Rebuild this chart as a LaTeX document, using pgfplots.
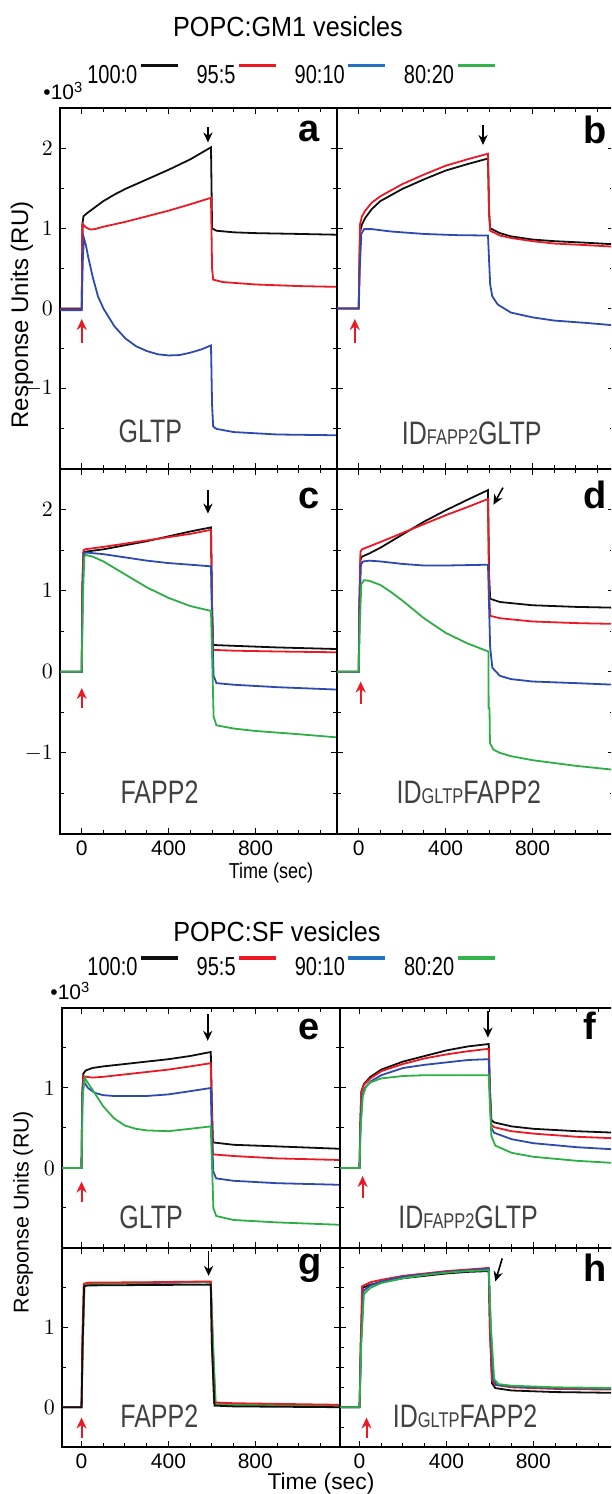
\documentclass[border=0pt]{standalone}
\usepackage{fontspec}
\setmainfont{Liberation Sans}
\usepackage{graphicx}
\usepackage{pgfplots}
\pgfplotsset{compat=1.18}
\usetikzlibrary{arrows.meta}

\definecolor{cK}{RGB}{15,15,15}
\definecolor{cR}{RGB}{235,25,35}
\definecolor{cB}{RGB}{45,75,175}
\definecolor{cG}{RGB}{45,175,70}
\definecolor{lB}{RGB}{35,115,195}
\definecolor{lG}{RGB}{50,180,75}
\definecolor{txtgray}{RGB}{65,65,65}

\pgfplotsset{
  base/.style={scale only axis, width=138.5pt, anchor=south west,
    axis line style={line width=0.6pt},
    every tick/.style={black, line width=0.5pt},
    major tick length=3pt, minor tick length=2pt,
    tick label style={font=\fontsize{10.5}{12}\selectfont},
    xtick={-400,0,400,800,1200}, minor x tick num=3,
    every axis plot/.append style={line width=0.9pt},
    clip=true},
  topg/.style={base, xmin=-100, xmax=1175, ymin=-2, ymax=2.5,
    ytick={-1,0,1,2}, minor ytick={-1.5,-0.5,0.5,1.5}},
  botg/.style={base, width=139pt, xmin=-90, xmax=1190},
  mylegend/.style={legend columns=4, legend plot pos=right,
    legend cell align=left,
    legend image code/.code={\draw[##1] (0pt,5pt) -- (18.5pt,5pt);},
    legend style={draw=none, fill=none, inner sep=0pt, anchor=west,
      font=\fontsize{10}{12}\selectfont,
      nodes={inner sep=1pt},
      /tikz/every even column/.append style={column sep=7.5pt}}},
}
\tikzset{
  plabel/.style={anchor=base east, inner sep=0pt, font=\bfseries\fontsize{19}{20}\selectfont},
  pname/.style={txtgray, inner sep=0pt, font=\fontsize{12.5}{14}\selectfont},
  barr/.style={-{Stealth[length=5pt,width=4.6pt]}, line width=0.8pt, black},
  rarr/.style={-{Stealth[length=5.5pt,width=5pt]}, line width=1pt, cR},
}
\newcommand{\sy}[1]{\scalebox{1}[1.3]{#1}}

\begin{document}
\begin{tikzpicture}
\path[use as bounding box] (0,0) rectangle (305.5pt,747pt);
\clip (0,0) rectangle (305.5pt,747pt);

% ---------------- titles and labels ----------------
\node[font=\fontsize{12.6}{14}\selectfont] at (144pt,733.5pt) {\scalebox{1}[1.1]{POPC:GM1 vesicles}};
\node[font=\fontsize{12.6}{14}\selectfont] at (138.5pt,281pt) {\scalebox{1}[1.1]{POPC:SF vesicles}};
\node[anchor=west, inner sep=0pt, font=\fontsize{10.5}{12}\selectfont] at (21.5pt,701.5pt) {•10\textsuperscript{3}};
\node[anchor=west, inner sep=0pt, font=\fontsize{10.5}{12}\selectfont] at (25pt,251.5pt) {•10\textsuperscript{3}};
\node[rotate=90, font=\fontsize{12}{14}\selectfont] at (11pt,589.5pt) {Response Units (RU)};
\node[rotate=90, font=\fontsize{10.7}{12}\selectfont] at (11.5pt,141pt) {Response Units (RU)};
\node[font=\fontsize{9}{11}\selectfont] at (135.5pt,310.5pt) {\scalebox{1}[1.2]{Time (sec)}};
\node[font=\fontsize{11.4}{13}\selectfont] at (160.5pt,5pt) {Time (sec)};

% ---------------- panel a ----------------
\begin{axis}[topg, at={(30pt,512.5pt)}, height=180.5pt, xticklabels={},
  mylegend, legend style={at={(0.09,1.089)}}]
\addplot[cK, forget plot] coordinates {(-100,0) (0,0) (3,1.05) (8,1.15) (25,1.19) (50,1.24) (100,1.34) (150,1.42) (200,1.49) (300,1.61) (400,1.73) (500,1.86) (595,2.01) (600,1.0) (620,0.97) (700,0.95) (800,0.94) (1000,0.93) (1180,0.92)};
\addplot[cR, forget plot] coordinates {(-100,-0.01) (0,-0.01) (3,0.9) (6,1.05) (20,1.01) (40,0.985) (60,0.99) (100,1.02) (200,1.08) (300,1.15) (400,1.22) (500,1.30) (595,1.38) (600,0.5) (605,0.36) (650,0.33) (800,0.30) (1000,0.28) (1180,0.27)};
\addplot[cB, forget plot] coordinates {(-100,-0.02) (0,-0.02) (5,0.6) (10,0.88) (20,0.78) (30,0.64) (50,0.40) (75,0.15) (100,0.0) (150,-0.22) (200,-0.37) (250,-0.47) (300,-0.53) (350,-0.57) (400,-0.585) (450,-0.58) (500,-0.55) (550,-0.51) (595,-0.46) (600,-1.2) (605,-1.47) (620,-1.5) (700,-1.54) (900,-1.57) (1180,-1.58)};
\addlegendimage{cK, line width=1.6pt}\addlegendentry{\sy{100:0}}
\addlegendimage{cR, line width=1.6pt}\addlegendentry{\sy{95:5}}
\addlegendimage{lB, line width=1.6pt}\addlegendentry{\sy{90:10}}
\addlegendimage{lG, line width=1.6pt}\addlegendentry{\sy{80:20}}
\draw[barr] (axis cs:581,2.26) -- (axis cs:581,2.07);
\draw[rarr] (axis cs:0,-0.43) -- (axis cs:0,-0.13);
\node[plabel] at (rel axis cs:0.939,0.906) {a};
\node[pname] at (axis cs:316,-1.53) {\sy{GLTP}};
\end{axis}

% ---------------- panel b ----------------
\begin{axis}[topg, at={(168.5pt,512.5pt)}, height=180.5pt, xticklabels={}, yticklabels={}]
\addplot[cK] coordinates {(-100,0) (0,0) (3,0.5) (6,0.95) (15,1.05) (30,1.13) (60,1.24) (100,1.34) (200,1.49) (300,1.61) (400,1.72) (500,1.80) (595,1.87) (600,1.2) (605,1.0) (650,0.94) (700,0.90) (800,0.86) (900,0.84) (1050,0.82) (1180,0.80)};
\addplot[cR] coordinates {(-100,0) (0,0) (3,0.6) (6,1.05) (15,1.15) (30,1.22) (60,1.32) (100,1.40) (200,1.55) (300,1.67) (400,1.78) (500,1.86) (595,1.93) (600,1.2) (605,0.97) (650,0.91) (700,0.88) (800,0.84) (900,0.81) (1050,0.79) (1180,0.77)};
\addplot[cB] coordinates {(-100,0) (0,0) (5,0.5) (12,0.93) (25,0.99) (60,0.99) (150,0.96) (300,0.93) (450,0.915) (595,0.91) (600,0.6) (605,0.3) (615,0.15) (640,0.05) (700,-0.05) (800,-0.11) (900,-0.15) (1050,-0.18) (1180,-0.21)};
\draw[barr] (axis cs:572,2.29) -- (axis cs:572,2.04);
\draw[rarr] (axis cs:-18,-0.43) -- (axis cs:-18,-0.13);
\node[plabel] at (rel axis cs:0.975,0.903) {b};
\node[pname] at (axis cs:520,-1.55) {\sy{ID{\fontsize{8.2}{9}\selectfont FAPP2}GLTP}};
\end{axis}

% ---------------- panel c ----------------
\begin{axis}[topg, at={(30pt,330pt)}, height=182.5pt, xticklabels={0,400,800}, xtick={0,400,800}, minor xtick={-100,100,200,300,500,600,700,900,1000,1100}]
\addplot[cK] coordinates {(-100,0) (0,0) (3,1.0) (8,1.47) (15,1.48) (100,1.51) (200,1.56) (300,1.61) (400,1.67) (500,1.73) (595,1.78) (600,0.8) (605,0.33) (700,0.32) (900,0.30) (1180,0.28)};
\addplot[cR] coordinates {(-100,0) (0,0) (3,1.1) (8,1.50) (15,1.51) (100,1.54) (200,1.58) (300,1.62) (400,1.66) (500,1.70) (595,1.75) (600,0.8) (605,0.27) (700,0.26) (900,0.25) (1180,0.24)};
\addplot[cB] coordinates {(-100,0) (0,0) (4,1.0) (10,1.46) (20,1.47) (100,1.45) (200,1.41) (300,1.37) (400,1.34) (500,1.32) (595,1.30) (600,0.6) (607,-0.05) (620,-0.14) (700,-0.16) (900,-0.19) (1180,-0.22)};
\addplot[cG] coordinates {(-100,0) (0,0) (5,0.9) (12,1.42) (20,1.44) (50,1.42) (100,1.36) (200,1.20) (300,1.04) (400,0.91) (500,0.81) (595,0.75) (600,0.2) (607,-0.55) (620,-0.66) (700,-0.70) (800,-0.73) (1000,-0.77) (1180,-0.81)};
\draw[barr] (axis cs:581,2.24) -- (axis cs:581,1.95);
\draw[rarr] (axis cs:0,-0.45) -- (axis cs:0,-0.2);
\node[plabel] at (rel axis cs:0.939,0.893) {c};
\node[pname] at (axis cs:358,-1.49) {\sy{FAPP2}};
\end{axis}

% ---------------- panel d ----------------
\begin{axis}[topg, at={(168.5pt,330pt)}, height=182.5pt, yticklabels={}, xticklabels={0,400,800}, xtick={0,400,800}, minor xtick={-100,100,200,300,500,600,700,900,1000,1100}]
\addplot[cK] coordinates {(-100,0) (0,0) (3,0.8) (8,1.38) (15,1.42) (50,1.46) (100,1.53) (200,1.69) (300,1.85) (400,1.99) (500,2.12) (595,2.24) (600,1.2) (605,0.90) (650,0.86) (800,0.82) (1000,0.80) (1180,0.79)};
\addplot[cR] coordinates {(-100,0) (0,0) (3,0.9) (8,1.48) (15,1.51) (100,1.60) (200,1.71) (300,1.82) (400,1.93) (500,2.03) (595,2.13) (600,1.0) (605,0.69) (650,0.66) (800,0.62) (1000,0.60) (1180,0.59)};
\addplot[cB] coordinates {(-100,0) (0,0) (4,0.8) (10,1.32) (20,1.36) (50,1.37) (100,1.36) (200,1.33) (300,1.31) (400,1.31) (500,1.315) (595,1.32) (600,0.8) (605,0.3) (615,0.05) (650,-0.05) (700,-0.09) (800,-0.12) (1000,-0.14) (1180,-0.16)};
\addplot[cG] coordinates {(-100,0) (0,0) (5,0.6) (12,1.08) (25,1.13) (50,1.12) (100,1.07) (150,0.98) (200,0.88) (300,0.66) (400,0.48) (500,0.35) (597,0.25) (598,-0.45) (602,-0.45) (604,-0.88) (620,-0.96) (650,-1.0) (700,-1.04) (800,-1.09) (1000,-1.16) (1180,-1.21)};
\draw[barr] (axis cs:664,2.27) -- (axis cs:620,2.06);
\draw[rarr] (axis cs:9,-0.4) -- (axis cs:9,-0.12);
\node[plabel] at (rel axis cs:0.975,0.893) {d};
\node[pname] at (axis cs:507,-1.48) {\sy{ID{\fontsize{8.2}{9}\selectfont GLTP}FAPP2}};
\end{axis}

% ---------------- panel e ----------------
\begin{axis}[botg, at={(31pt,123pt)}, height=120pt, ymin=-1, ymax=2, ytick={0,1}, minor ytick={-0.5,0.5,1.5}, xticklabels={},
  mylegend, legend style={at={(0.083,1.167)}}]
\addplot[cK, forget plot] coordinates {(-90,0) (0,0) (3,0.9) (8,1.18) (20,1.22) (50,1.25) (100,1.27) (200,1.30) (300,1.33) (400,1.36) (500,1.40) (595,1.45) (600,0.8) (605,0.32) (700,0.29) (900,0.27) (1190,0.24)};
\addplot[cR, forget plot] coordinates {(-90,0) (0,0) (3,0.9) (8,1.15) (20,1.14) (50,1.13) (100,1.14) (200,1.17) (300,1.20) (400,1.23) (500,1.27) (595,1.31) (600,0.7) (605,0.17) (700,0.15) (900,0.12) (1190,0.10)};
\addplot[cB, forget plot] coordinates {(-90,0) (0,0) (4,0.9) (10,1.08) (30,1.0) (60,0.94) (100,0.91) (150,0.90) (200,0.90) (300,0.90) (400,0.92) (500,0.96) (595,1.0) (600,0.4) (607,-0.05) (620,-0.13) (700,-0.16) (900,-0.19) (1190,-0.21)};
\addplot[cG, forget plot] coordinates {(-90,0) (0,0) (5,0.9) (15,1.13) (25,1.08) (50,0.98) (100,0.77) (150,0.62) (200,0.53) (250,0.49) (300,0.47) (400,0.46) (500,0.49) (595,0.52) (600,0.1) (607,-0.5) (620,-0.6) (700,-0.65) (900,-0.68) (1190,-0.71)};
\addlegendimage{cK, line width=1.6pt}\addlegendentry{\sy{100:0}}
\addlegendimage{cR, line width=1.6pt}\addlegendentry{\sy{95:5}}
\addlegendimage{lB, line width=1.6pt}\addlegendentry{\sy{90:10}}
\addlegendimage{lG, line width=1.6pt}\addlegendentry{\sy{80:20}}
\draw[barr] (axis cs:581,1.92) -- (axis cs:581,1.59);
\draw[rarr] (axis cs:0,-0.43) -- (axis cs:0,-0.17);
\node[plabel] at (rel axis cs:0.928,0.867) {e};
\node[pname] at (axis cs:320,-0.62) {\sy{GLTP}};
\end{axis}

% ---------------- panel f ----------------
\begin{axis}[botg, at={(170pt,123pt)}, height=120pt, ymin=-1, ymax=2, ytick={0,1}, minor ytick={-0.5,0.5,1.5}, xticklabels={}, yticklabels={}]
\addplot[cK] coordinates {(-90,0) (0,0) (3,0.5) (8,0.95) (20,1.05) (50,1.14) (100,1.23) (200,1.33) (300,1.40) (400,1.47) (500,1.52) (595,1.55) (600,1.0) (607,0.6) (620,0.57) (700,0.52) (800,0.49) (1000,0.46) (1190,0.44)};
\addplot[cR] coordinates {(-90,0) (0,0) (3,0.5) (8,0.95) (20,1.04) (50,1.12) (100,1.21) (200,1.30) (300,1.37) (400,1.42) (500,1.46) (595,1.49) (600,1.0) (607,0.54) (620,0.51) (700,0.46) (800,0.43) (1000,0.39) (1190,0.37)};
\addplot[cB] coordinates {(-90,0) (0,0) (4,0.5) (12,0.9) (25,1.0) (50,1.08) (100,1.16) (200,1.25) (300,1.29) (400,1.32) (500,1.35) (595,1.36) (600,0.9) (607,0.5) (620,0.44) (700,0.36) (800,0.31) (1000,0.26) (1190,0.23)};
\addplot[cG] coordinates {(-90,0) (0,0) (5,0.5) (15,0.9) (30,1.02) (50,1.07) (100,1.12) (200,1.15) (300,1.16) (595,1.16) (600,0.8) (607,0.4) (625,0.28) (700,0.19) (800,0.14) (1000,0.09) (1190,0.06)};
\draw[barr] (axis cs:591,1.96) -- (axis cs:591,1.63);
\draw[rarr] (axis cs:14,-0.38) -- (axis cs:14,-0.1);
\node[plabel] at (rel axis cs:0.924,0.867) {f};
\node[pname] at (axis cs:500,-0.62) {\sy{ID{\fontsize{8.2}{9}\selectfont FAPP2}GLTP}};
\end{axis}

% ---------------- panel g ----------------
\begin{axis}[botg, at={(31pt,23.5pt)}, height=99.5pt, ymin=-0.5, ymax=2, ytick={0,1}, minor ytick={0.5,1.5}, xticklabels={0,400,800}, xtick={0,400,800}, minor xtick={-100,100,200,300,500,600,700,900,1000,1100}]
\addplot[cB] coordinates {(-90,0) (0,0) (5,0.8) (12,1.54) (30,1.55) (300,1.56) (595,1.57) (605,0.8) (615,0.04) (700,0.03) (1190,0.02)};
\addplot[cG] coordinates {(-90,0) (0,0) (6,0.8) (14,1.53) (30,1.55) (300,1.565) (595,1.575) (605,0.8) (618,0.04) (700,0.03) (1190,0.02)};
\addplot[cR] coordinates {(-90,0) (0,0) (3,0.8) (10,1.55) (30,1.565) (300,1.57) (595,1.58) (600,0.8) (610,0.06) (700,0.05) (1190,0.03)};
\addplot[cK] coordinates {(-90,0) (0,0) (5,0.8) (12,1.52) (30,1.53) (300,1.535) (595,1.54) (600,0.8) (612,0.02) (700,0.01) (1190,0.0)};
\draw[barr] (axis cs:585,1.96) -- (axis cs:585,1.65);
\draw[rarr] (axis cs:0,-0.39) -- (axis cs:0,-0.13);
\node[plabel] at (rel axis cs:0.935,0.869) {g};
\node[pname] at (axis cs:358,-0.11) {\sy{FAPP2}};
\end{axis}

% ---------------- panel h ----------------
\begin{axis}[botg, at={(170pt,23.5pt)}, height=99.5pt, ymin=-0.5, ymax=2, ytick={0,1}, minor ytick={-0.25,0.25,0.5,0.75,1.25,1.5,1.75}, yticklabels={}, xticklabels={0,400,800}, xtick={0,400,800}, minor xtick={-100,100,200,300,500,600,700,900,1000,1100}]
\addplot[cK] coordinates {(-90,0) (0,0) (6,0.8) (15,1.50) (50,1.54) (100,1.57) (200,1.62) (300,1.65) (400,1.68) (500,1.70) (595,1.71) (600,1.0) (610,0.3) (625,0.24) (700,0.21) (900,0.19) (1190,0.18)};
\addplot[cR] coordinates {(-90,0) (0,0) (5,0.8) (12,1.52) (50,1.57) (100,1.60) (200,1.65) (300,1.68) (400,1.71) (500,1.73) (595,1.75) (600,1.0) (610,0.34) (625,0.28) (700,0.25) (900,0.23) (1190,0.22)};
\addplot[cB] coordinates {(-90,0) (0,0) (7,0.8) (18,1.46) (50,1.53) (100,1.58) (200,1.64) (300,1.67) (400,1.70) (500,1.72) (595,1.74) (605,0.9) (615,0.35) (630,0.28) (700,0.26) (900,0.24) (1190,0.23)};
\addplot[cG] coordinates {(-90,0) (0,0) (8,0.8) (20,1.42) (50,1.50) (100,1.56) (200,1.62) (300,1.66) (400,1.69) (500,1.71) (595,1.72) (605,1.0) (620,0.35) (640,0.29) (700,0.27) (900,0.25) (1190,0.24)};
\draw[barr] (axis cs:657,1.87) -- (axis cs:625,1.58);
\draw[rarr] (axis cs:32,-0.39) -- (axis cs:32,-0.13);
\node[plabel] at (rel axis cs:0.96,0.83) {h};
\node[pname] at (axis cs:486,-0.12) {\sy{ID{\fontsize{8.2}{9}\selectfont GLTP}FAPP2}};
\end{axis}
\end{tikzpicture}
\end{document}
